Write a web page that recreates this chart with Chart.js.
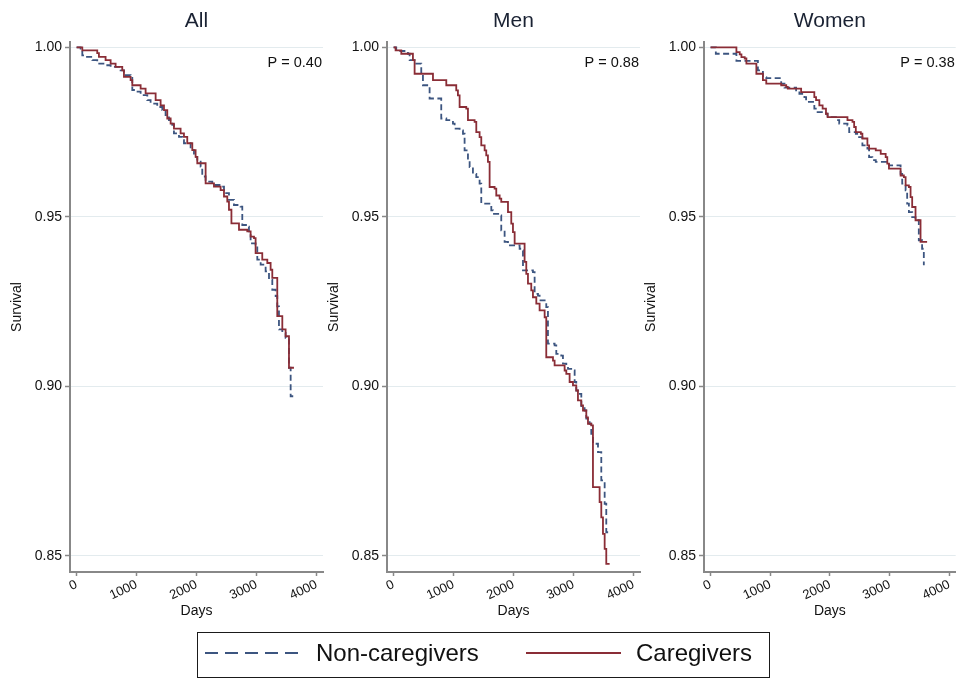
<!DOCTYPE html>
<html>
<head>
<meta charset="utf-8">
<script src="https://cdn.jsdelivr.net/npm/chart.js@4"></script>
<style>
  body { margin: 0; width: 957px; height: 678px; overflow: hidden; background: #fff; position: relative; font-family: "Liberation Sans", Arial, sans-serif; }
  canvas { position: absolute; top: 0; }
  #legend { position: absolute; left: 197px; top: 632px; width: 573px; height: 46px; border: 1.5px solid #1a1a1a; box-sizing: border-box; }
  .lg-text { position: absolute; top: 641px; font-size: 24px; line-height: 24px; color: #111; white-space: nowrap; }
  svg { position: absolute; left: 0; top: 0; }
</style>
</head>
<body>
<canvas id="c1" width="325" height="625" style="left:0px"></canvas>
<canvas id="c2" width="325" height="625" style="left:317px"></canvas>
<canvas id="c3" width="323" height="625" style="left:634px"></canvas>

<div id="legend"></div>
<svg width="957" height="678">
  <line x1="205" y1="653" x2="302" y2="653" stroke="#3c5580" stroke-width="2" stroke-dasharray="13,7" />
  <line x1="526" y1="653" x2="621" y2="653" stroke="#8a2d36" stroke-width="2" />
</svg>
<span class="lg-text" style="left:316px">Non-caregivers</span>
<span class="lg-text" style="left:636px">Caregivers</span>

<script>
// tick values
const xTicks = [0, 1000, 2000, 3000, 4000];
const yTicks = [0.85, 0.90, 0.95, 1.00];

// All
const allCareDays = [0, 95, 344, 372, 483, 567, 650, 761, 789, 900, 928, 1067, 1150, 1317, 1400, 1456, 1511, 1567, 1622, 1733, 1789, 1844, 1928, 1983, 2011, 2150, 2289, 2400, 2456, 2511, 2539, 2580, 2706, 2844, 2900, 2956, 2983, 3094, 3178, 3233, 3261, 3344, 3428, 3483, 3539, 3622];
const allCareSurv = [1.000, 0.9991, 0.9983, 0.9972, 0.9962, 0.9952, 0.9942, 0.9932, 0.9913, 0.9903, 0.9888, 0.9878, 0.9864, 0.9844, 0.9829, 0.9815, 0.9790, 0.9775, 0.9760, 0.9746, 0.9736, 0.9717, 0.9697, 0.9677, 0.9658, 0.9599, 0.9589, 0.9579, 0.9560, 0.9545, 0.9521, 0.9481, 0.9462, 0.9457, 0.9442, 0.9437, 0.9393, 0.9374, 0.9364, 0.9344, 0.9320, 0.9207, 0.9168, 0.9148, 0.9055, 0.9055];
const allNonDays = [0, 67, 95, 150, 261, 344, 511, 567, 733, 789, 817, 900, 928, 983, 1067, 1178, 1233, 1344, 1428, 1483, 1539, 1594, 1622, 1706, 1761, 1789, 1900, 1956, 2011, 2067, 2094, 2150, 2261, 2400, 2456, 2539, 2622, 2733, 2761, 2844, 2872, 2900, 2983, 3011, 3067, 3150, 3206, 3261, 3317, 3344, 3372, 3428, 3483, 3539, 3567, 3610];
const allNonSurv = [1.000, 0.9996, 0.9976, 0.9972, 0.9962, 0.9952, 0.9947, 0.9942, 0.9932, 0.9927, 0.9918, 0.9913, 0.9874, 0.9869, 0.9859, 0.9844, 0.9834, 0.9824, 0.9815, 0.9800, 0.9785, 0.9771, 0.9746, 0.9736, 0.9726, 0.9717, 0.9697, 0.9677, 0.9663, 0.9648, 0.9619, 0.9604, 0.9594, 0.9589, 0.9570, 0.9550, 0.9535, 0.9530, 0.9476, 0.9471, 0.9457, 0.9422, 0.9418, 0.9374, 0.9359, 0.9339, 0.9315, 0.9285, 0.9266, 0.9236, 0.9168, 0.9158, 0.9143, 0.9055, 0.8971, 0.8971];

// Men
const menCareDays = [0, 33, 128, 322, 350, 656, 878, 1044, 1072, 1100, 1211, 1239, 1350, 1378, 1433, 1461, 1517, 1544, 1572, 1600, 1683, 1711, 1767, 1794, 1906, 1961, 1989, 2017, 2183, 2211, 2239, 2294, 2322, 2378, 2433, 2517, 2544, 2656, 2683, 2850, 2878, 2933, 2989, 3044, 3072, 3128, 3156, 3211, 3239, 3294, 3322, 3433, 3461, 3489, 3517, 3544, 3600];
const menCareSurv = [1.000, 0.9991, 0.9981, 0.9962, 0.9922, 0.9903, 0.9888, 0.9873, 0.9858, 0.9824, 0.9819, 0.9785, 0.9780, 0.9750, 0.9735, 0.9711, 0.9696, 0.9681, 0.9662, 0.9588, 0.9583, 0.9563, 0.9554, 0.9544, 0.9514, 0.9480, 0.9455, 0.9421, 0.9367, 0.9332, 0.9303, 0.9283, 0.9263, 0.9244, 0.9224, 0.9204, 0.9086, 0.9076, 0.9062, 0.9047, 0.9037, 0.9013, 0.9003, 0.8988, 0.8959, 0.8944, 0.8929, 0.8909, 0.8890, 0.8885, 0.8703, 0.8659, 0.8614, 0.8565, 0.8521, 0.8477, 0.8477];
const menNonDays = [0, 44, 239, 267, 350, 461, 489, 600, 794, 878, 989, 1017, 1100, 1156, 1183, 1239, 1267, 1322, 1378, 1433, 1461, 1628, 1656, 1767, 1794, 1850, 1906, 2100, 2128, 2156, 2322, 2350, 2406, 2433, 2517, 2544, 2572, 2683, 2711, 2794, 2822, 2878, 2906, 2989, 3017, 3044, 3072, 3128, 3183, 3211, 3267, 3294, 3322, 3406, 3461, 3517, 3544, 3600];
const menNonSurv = [1.000, 0.9989, 0.9981, 0.9962, 0.9952, 0.9922, 0.9888, 0.9849, 0.9790, 0.9785, 0.9775, 0.9760, 0.9755, 0.9745, 0.9696, 0.9667, 0.9647, 0.9627, 0.9617, 0.9598, 0.9539, 0.9519, 0.9509, 0.9504, 0.9460, 0.9426, 0.9416, 0.9406, 0.9401, 0.9342, 0.9337, 0.9273, 0.9268, 0.9254, 0.9249, 0.9234, 0.9126, 0.9121, 0.9096, 0.9091, 0.9067, 0.9062, 0.9052, 0.9047, 0.9013, 0.8988, 0.8978, 0.8939, 0.8929, 0.8905, 0.8890, 0.8860, 0.8831, 0.8806, 0.8723, 0.8654, 0.8570, 0.8570];

// Women
const womenCareDays = [0, 433, 488, 517, 572, 600, 767, 877, 933, 1183, 1267, 1293, 1517, 1738, 1767, 1822, 1877, 1933, 1960, 2293, 2377, 2405, 2433, 2517, 2543, 2627, 2655, 2767, 2850, 2933, 2960, 2988, 3183, 3238, 3267, 3322, 3350, 3377, 3433, 3517, 3627];
const womenCareSurv = [1.000, 0.9986, 0.9979, 0.9971, 0.9967, 0.9952, 0.9922, 0.9903, 0.9893, 0.9888, 0.9883, 0.9878, 0.9868, 0.9853, 0.9844, 0.9829, 0.9819, 0.9804, 0.9794, 0.9785, 0.9780, 0.9765, 0.9750, 0.9745, 0.9731, 0.9711, 0.9701, 0.9696, 0.9686, 0.9676, 0.9657, 0.9642, 0.9622, 0.9617, 0.9593, 0.9588, 0.9558, 0.9529, 0.9490, 0.9426, 0.9426];
const womenNonDays = [0, 88, 433, 793, 877, 933, 1183, 1238, 1433, 1488, 1572, 1600, 1738, 1793, 1933, 1960, 2100, 2155, 2293, 2322, 2433, 2488, 2543, 2627, 2655, 2710, 2767, 2988, 3183, 3210, 3267, 3293, 3322, 3377, 3433, 3488, 3543, 3572];
const womenNonSurv = [1.000, 0.9981, 0.9960, 0.9932, 0.9912, 0.9909, 0.9893, 0.9881, 0.9873, 0.9863, 0.9853, 0.9839, 0.9819, 0.9809, 0.9804, 0.9794, 0.9785, 0.9775, 0.9770, 0.9750, 0.9745, 0.9735, 0.9711, 0.9701, 0.9676, 0.9667, 0.9662, 0.9652, 0.9627, 0.9598, 0.9578, 0.9539, 0.9514, 0.9499, 0.9490, 0.9431, 0.9406, 0.9357];

const FONT = '"Liberation Sans", Arial, sans-serif';
const careColor = "#8a2d36";
const nonColor = "#3c5580";

const toPoints = (days, surv) => days.map((d, i) => ({ x: d, y: surv[i] }));

// P value in the top right corner of the plot area
const pLabel = {
  id: "pLabel",
  afterDraw(chart, args, opts) {
    const { ctx, chartArea } = chart;
    ctx.save();
    ctx.font = "14.5px " + FONT;
    ctx.fillStyle = "#111";
    ctx.textAlign = "right";
    ctx.textBaseline = "middle";
    ctx.fillText(opts.text, chartArea.right - 1, 63);
    ctx.restore();
  },
};

const makePanel = (id, title, pText, careDays, careSurv, nonDays, nonSurv, padRight) => {
  new Chart(document.getElementById(id), {
    type: "line",
    data: {
      datasets: [
        {
          label: "Caregivers",
          data: toPoints(careDays, careSurv),
          borderColor: careColor,
          borderWidth: 1.8,
          stepped: "before",
          pointRadius: 0,
          fill: false,
        },
        {
          label: "Non-caregivers",
          data: toPoints(nonDays, nonSurv),
          borderColor: nonColor,
          borderWidth: 1.8,
          borderDash: [6, 3.5],
          stepped: "before",
          pointRadius: 0,
          fill: false,
        },
      ],
    },
    options: {
      responsive: false,
      animation: false,
      layout: { padding: { left: 0, right: padRight, top: 0, bottom: 5 } },
      plugins: {
        legend: { display: false },
        tooltip: { enabled: false },
        title: {
          display: true,
          text: title,
          fullSize: false,
          font: { family: FONT, size: 21, weight: "normal" },
          color: "#1a2233",
          padding: { top: 8.4, bottom: 8.4 },
        },
        pLabel: { text: pText },
      },
      scales: {
        x: {
          type: "linear",
          min: -110,
          max: 4106,
          afterBuildTicks: (axis) => { axis.ticks = xTicks.map((v) => ({ value: v })); },
          afterFit: (axis) => { axis.height = 48; },
          grid: { drawOnChartArea: false, drawTicks: true, tickLength: 4, tickColor: "#888", tickWidth: 1.5 },
          border: { color: "#888", width: 2 },
          ticks: {
            font: { family: FONT, size: 13 },
            color: "#111",
            minRotation: 25,
            maxRotation: 25,
            padding: 1,
            callback: (v) => String(v),
          },
          title: { display: true, text: "Days", font: { family: FONT, size: 14 }, color: "#111", padding: { top: 0, bottom: 0 } },
        },
        y: {
          type: "linear",
          min: 0.84528,
          max: 1.00156,
          afterBuildTicks: (axis) => { axis.ticks = yTicks.map((v) => ({ value: v })); },
          afterFit: (axis) => { axis.width = 70; },
          grid: { color: "#e3ebee", lineWidth: 1, tickLength: 5, tickColor: "#888", tickWidth: 1.5 },
          border: { color: "#888", width: 2 },
          ticks: {
            font: { family: FONT, size: 14 },
            color: "#111",
            padding: 3,
            callback: (v) => v.toFixed(2),
          },
          title: { display: true, text: "Survival", font: { family: FONT, size: 14 }, color: "#111", padding: { top: 8.6, bottom: 0 } },
        },
      },
    },
    plugins: [pLabel],
  });
};

makePanel("c1", "All", "P = 0.40", allCareDays, allCareSurv, allNonDays, allNonSurv, 2);
makePanel("c2", "Men", "P = 0.88", menCareDays, menCareSurv, menNonDays, menNonSurv, 2);
makePanel("c3", "Women", "P = 0.38", womenCareDays, womenCareSurv, womenNonDays, womenNonSurv, 0);
</script>
</body>
</html>
